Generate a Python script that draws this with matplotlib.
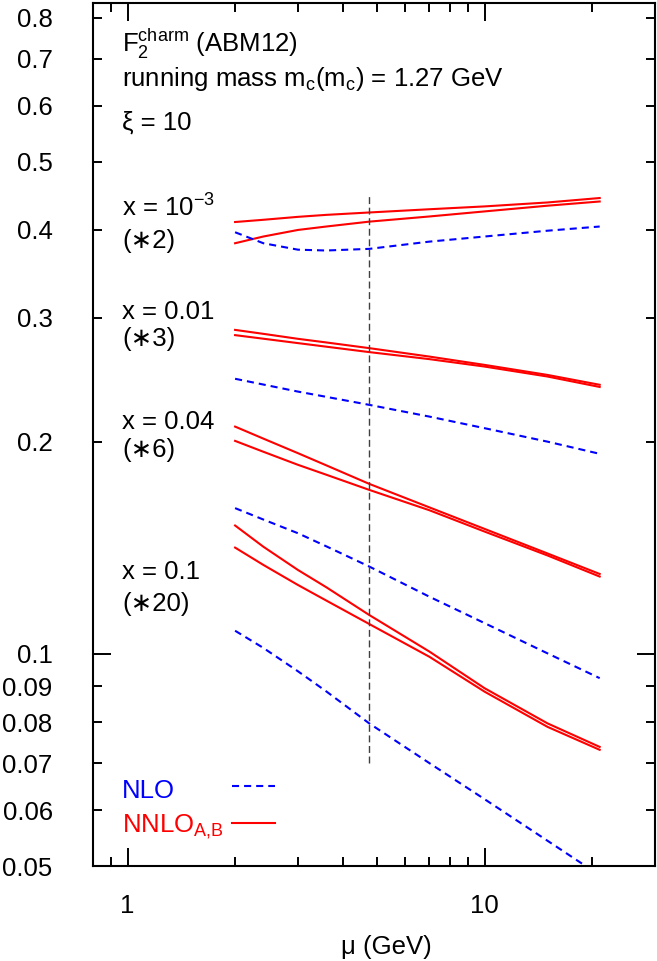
import matplotlib
matplotlib.use('Agg')
import matplotlib.pyplot as plt
from matplotlib.ticker import FixedLocator, FixedFormatter, NullFormatter
from matplotlib.lines import Line2D

plt.rcParams['font.family'] = ['Liberation Sans', 'Noto Sans', 'DejaVu Sans']
plt.rcParams['mathtext.fontset'] = 'custom'
plt.rcParams['mathtext.rm'] = 'Liberation Sans'
plt.rcParams['mathtext.it'] = 'Liberation Sans:italic'
plt.rcParams['mathtext.bf'] = 'Liberation Sans:bold'
plt.rcParams['mathtext.sf'] = 'Liberation Sans'
plt.rcParams['mathtext.default'] = 'regular'

# ---------------- data ----------------
mu = [2, 2.4, 3, 3.6, 4.75, 7, 10, 15, 21]

# x = 1e-3 (*2)
nnlo_a_x1e3 = [0.4105, 0.4135, 0.4175, 0.4202, 0.4235, 0.428, 0.432, 0.4376, 0.444]
nnlo_b_x1e3 = [0.383, 0.3915, 0.400, 0.4045, 0.411, 0.418, 0.425, 0.433, 0.439]
nlo_x1e3 = [0.397, 0.383, 0.375, 0.374, 0.376, 0.385, 0.3915, 0.399, 0.4045]

# x = 0.01 (*3)
nnlo_a_x001 = [0.2885, 0.2848, 0.2802, 0.2769, 0.2718, 0.2644, 0.2573, 0.249, 0.2411]
nnlo_b_x001 = [0.2836, 0.2803, 0.2763, 0.2731, 0.2683, 0.2622, 0.2559, 0.2477, 0.2394]
nlo_x001 = [0.2459, 0.2413, 0.2358, 0.2318, 0.2258, 0.2173, 0.2092, 0.2002, 0.1924]

# x = 0.04 (*6)
nnlo_a_x004 = [0.2103, 0.2022, 0.1928, 0.1853, 0.1744, 0.1615, 0.1505, 0.1389, 0.1299]
nnlo_b_x004 = [0.2007, 0.1937, 0.1856, 0.1797, 0.171, 0.1600, 0.1492, 0.1380, 0.1288]
nlo_x004 = [0.1611, 0.1552, 0.1484, 0.1422, 0.1331, 0.1206, 0.1106, 0.1002, 0.0924]

# x = 0.1 (*20)
nnlo_a_x01 = [0.1522, 0.1420, 0.1316, 0.1244, 0.1136, 0.1008, 0.0894, 0.0797, 0.0738]
nnlo_b_x01 = [0.1416, 0.1338, 0.1253, 0.1191, 0.1103, 0.0991, 0.0884, 0.0788, 0.0731]
nlo_x01 = [0.1079, 0.1020, 0.0945, 0.0885, 0.0797, 0.0700, 0.0622, 0.0543, 0.0485]

mu_ref = 4.75
ref_line_y = [0.07, 0.45]

xticks_major = [1, 10]
xlabels_major = ['1', '10']
xticks_minor = [0.8, 0.9, 2, 3, 4, 5, 6, 7, 8, 9, 20, 30]
yticks_major = [0.1]
ylabels_major = ['0.1']
yticks_minor = [0.05, 0.06, 0.07, 0.08, 0.09, 0.2, 0.3, 0.4, 0.5, 0.6, 0.7, 0.8]
ylabels_minor = ['0.05', '0.06', '0.07', '0.08', '0.09', '0.2', '0.3', '0.4', '0.5', '0.6', '0.7', '0.8']

# ---------------- figure ----------------
W, H = 657, 961
fig = plt.figure(figsize=(W / 100, H / 100), dpi=100)
ax = fig.add_axes([93 / W, 1 - 866 / H, (655 - 93) / W, (866 - 3) / H])

RED = '#ff0000'
BLUE = '#0000ff'
lw = 1.5
dash = (3.4, 2.4)

for a, b, n in [(nnlo_a_x1e3, nnlo_b_x1e3, nlo_x1e3),
                (nnlo_a_x001, nnlo_b_x001, nlo_x001),
                (nnlo_a_x004, nnlo_b_x004, nlo_x004),
                (nnlo_a_x01, nnlo_b_x01, nlo_x01)]:
    ax.plot(mu, a, color=RED, lw=lw)
    ax.plot(mu, b, color=RED, lw=lw)
    ax.plot(mu, n, color=BLUE, lw=lw, dashes=dash)

ax.plot([mu_ref, mu_ref], ref_line_y, color='0.25', lw=1.0, dashes=(5, 2.6))

ax.set_xscale('log')
ax.set_yscale('log')
ax.set_xlim(0.8, 30)
ax.set_ylim(0.05, 0.84)

ax.xaxis.set_major_locator(FixedLocator(xticks_major))
ax.xaxis.set_major_formatter(FixedFormatter(xlabels_major))
ax.xaxis.set_minor_locator(FixedLocator(xticks_minor))
ax.xaxis.set_minor_formatter(NullFormatter())
ax.yaxis.set_major_locator(FixedLocator(yticks_major))
ax.yaxis.set_major_formatter(FixedFormatter(ylabels_major))
ax.yaxis.set_minor_locator(FixedLocator(yticks_minor))
ax.yaxis.set_minor_formatter(FixedFormatter(ylabels_minor))

fs = 18.5
ax.tick_params(which='both', direction='in', top=True, right=True, width=1.4,
               labelsize=fs, colors='black')
ax.tick_params(which='major', length=13)
ax.tick_params(which='minor', length=6.5)
ax.tick_params(axis='y', which='both', pad=29)
ax.tick_params(axis='x', which='both', pad=20)
for sp in ax.spines.values():
    sp.set_linewidth(1.5)

ax.set_xlabel('μ (GeV)', fontsize=fs)
ax.xaxis.set_label_coords((386 - 93) / 562, (866 - 947) / 863)
ax.xaxis.label.set_va('center')


def px(x, y):
    return x / W, 1 - y / H


fig.text(*px(122, 44), r'F$_2^{\mathrm{charm}}$ (ABM12)', fontsize=fs, va='center')
fig.text(*px(122, 79), r'running mass m$_\mathrm{c}$(m$_\mathrm{c}$) = 1.27 GeV', fontsize=fs, va='center')
fig.text(*px(122, 123), 'ξ = 10', fontsize=fs, va='center')

fig.text(*px(122, 208), r'x = 10$^{-3}$', fontsize=fs, va='center')
fig.text(*px(122, 241), '(∗2)', fontsize=fs, va='center')
fig.text(*px(122, 312), 'x = 0.01', fontsize=fs, va='center')
fig.text(*px(122, 339), '(∗3)', fontsize=fs, va='center')
fig.text(*px(122, 422), 'x = 0.04', fontsize=fs, va='center')
fig.text(*px(122, 450), '(∗6)', fontsize=fs, va='center')
fig.text(*px(122, 572), 'x = 0.1', fontsize=fs, va='center')
fig.text(*px(122, 604), '(∗20)', fontsize=fs, va='center')

# legend (key text on the left, line sample on the right)
fig.text(*px(122, 791), 'NLO', fontsize=fs, va='center', color=BLUE)
fig.text(*px(122, 827), r'NNLO$_\mathrm{A{,}B}$', fontsize=fs, va='center', color=RED)
fig.add_artist(Line2D([232 / W, 275 / W], [1 - 786 / H, 1 - 786 / H],
                      transform=fig.transFigure, color=BLUE, lw=lw, dashes=dash))
fig.add_artist(Line2D([232 / W, 275 / W], [1 - 823 / H, 1 - 823 / H],
                      transform=fig.transFigure, color=RED, lw=lw))

fig.savefig('out.png', dpi=100)
